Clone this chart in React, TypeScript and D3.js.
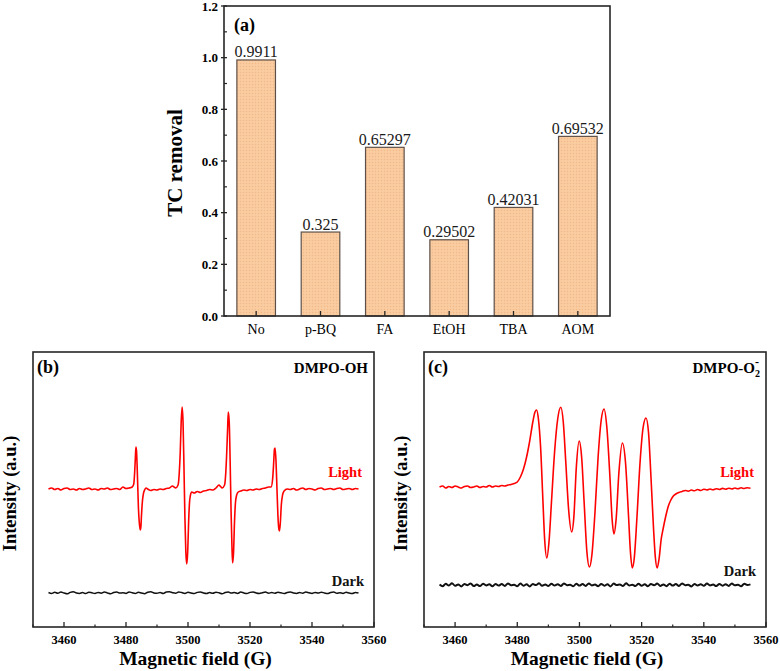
import React from 'react';
import * as d3 from 'd3';

const categories = ['No', 'p-BQ', 'FA', 'EtOH', 'TBA', 'AOM'];
const removal = [0.9911, 0.325, 0.65297, 0.29502, 0.42031, 0.69532];
const removalLabels = ['0.9911', '0.325', '0.65297', '0.29502', '0.42031', '0.69532'];
const yTicksA = [0, 0.2, 0.4, 0.6, 0.8, 1.0, 1.2];
const yMinorA = [0.1, 0.3, 0.5, 0.7, 0.9, 1.1];
const fieldTicks = [3460, 3480, 3500, 3520, 3540, 3560];
const fieldMinor = [3450, 3470, 3490, 3510, 3530, 3550];

// DMPO-OH, light (field G, intensity a.u.)
const lightOH: [number, number][] = [
  [3455, 138], [3456, 139], [3457, 137.5], [3458, 138.5], [3459, 137], [3460, 138.5], [3461, 139], [3462, 137.5],
  [3463, 138], [3464, 137], [3465, 138.5], [3466, 137.5], [3467, 138], [3468, 139], [3469, 137.5], [3470, 138],
  [3471, 137], [3472, 138.5], [3473, 138], [3474, 139], [3475, 137.5], [3476, 138], [3477, 138.5], [3478, 137.5],
  [3479, 140], [3480, 138.5], [3481, 139], [3482, 140], [3482.5, 143], [3482.8, 155], [3483.0, 168], [3483.2, 180],
  [3483.4, 176], [3483.6, 160], [3483.8, 140], [3484.0, 120], [3484.3, 104], [3484.6, 97], [3484.8, 100],
  [3485.0, 112], [3485.3, 126], [3485.6, 133], [3486.0, 137], [3486.5, 139], [3487, 138], [3488, 136.5],
  [3489, 137.5], [3490, 137], [3491, 138], [3492, 137.5], [3493, 138.5], [3494, 139], [3495, 141], [3495.5, 140],
  [3496, 139], [3496.8, 142], [3497.2, 155], [3497.5, 175], [3497.8, 205], [3498.1, 220], [3498.4, 205],
  [3498.7, 160], [3499.0, 110], [3499.3, 75], [3499.6, 63], [3499.9, 75], [3500.2, 105], [3500.5, 125],
  [3500.8, 132], [3501.2, 135], [3502, 134], [3503, 135.5], [3504, 134.5], [3505, 136], [3506, 136.5],
  [3507, 137.5], [3508, 137], [3509, 139], [3510, 142], [3510.5, 140.5], [3511, 139], [3511.8, 142],
  [3512.2, 155], [3512.5, 175], [3512.8, 200], [3513.0, 215], [3513.3, 205], [3513.6, 165], [3513.9, 115],
  [3514.2, 78], [3514.4, 64], [3514.7, 75], [3515.0, 105], [3515.3, 124], [3515.7, 132], [3516.2, 135],
  [3517, 136], [3518, 137], [3519, 136.5], [3520, 137.5], [3521, 137], [3522, 138], [3523, 137.5], [3524, 138.5],
  [3525, 139], [3526, 140], [3526.8, 140], [3527.3, 148], [3527.6, 162], [3527.9, 178], [3528.1, 179],
  [3528.4, 165], [3528.7, 138], [3529.0, 112], [3529.3, 98], [3529.5, 96], [3529.8, 105], [3530.1, 122],
  [3530.5, 132], [3531, 136], [3532, 138], [3533, 137.5], [3534, 138.5], [3535, 137], [3536, 138], [3537, 139],
  [3538, 137.5], [3539, 138.5], [3540, 138], [3541, 137], [3542, 138.5], [3543, 139], [3544, 137.5], [3545, 138],
  [3546, 138.5], [3547, 137.5], [3548, 138.5], [3549, 139], [3550, 137.5], [3551, 138], [3552, 138.5],
  [3553, 137.5], [3554, 138.5], [3555, 138],
];

const darkOH: [number, number][] = [
  [3455, 34.5], [3456, 33.5], [3457, 34.8], [3458, 33.8], [3459, 35], [3460, 34], [3461, 33.2], [3462, 34.6],
  [3463, 35.2], [3464, 34], [3465, 33.6], [3466, 34.4], [3467, 33.4], [3468, 34.8], [3469, 34.2], [3470, 33.5],
  [3471, 34.6], [3472, 33.8], [3473, 34.9], [3474, 34.1], [3475, 33.3], [3476, 34.5], [3477, 35], [3478, 33.9],
  [3479, 34.3], [3480, 33.6], [3481, 35.1], [3482, 34.2], [3483, 33.5], [3484, 34.7], [3485, 34], [3486, 33.3],
  [3487, 34.8], [3488, 35.3], [3489, 34.1], [3490, 33.7], [3491, 34.5], [3492, 33.6], [3493, 34.9], [3494, 35.2],
  [3495, 34.3], [3496, 33.8], [3497, 35], [3498, 34.4], [3499, 33.6], [3500, 34.7], [3501, 34.1], [3502, 33.4],
  [3503, 34.6], [3504, 35.1], [3505, 34], [3506, 33.5], [3507, 34.4], [3508, 33.7], [3509, 34.8], [3510, 34.2],
  [3511, 33.3], [3512, 34.5], [3513, 35], [3514, 33.9], [3515, 34.4], [3516, 33.6], [3517, 34.9], [3518, 34.1],
  [3519, 33.4], [3520, 34.6], [3521, 35.1], [3522, 34], [3523, 33.5], [3524, 34.3], [3525, 34.9], [3526, 33.7],
  [3527, 34.5], [3528, 33.8], [3529, 34.7], [3530, 34.2], [3531, 33.4], [3532, 34.6], [3533, 35], [3534, 34.1],
  [3535, 33.6], [3536, 34.4], [3537, 33.8], [3538, 34.9], [3539, 34.2], [3540, 33.5], [3541, 34.6], [3542, 33.9],
  [3543, 34.8], [3544, 34.1], [3545, 33.4], [3546, 34.5], [3547, 35], [3548, 33.8], [3549, 34.3], [3550, 33.6],
  [3551, 34.7], [3552, 34], [3553, 33.5], [3554, 34.4], [3555, 33.9],
];

// DMPO-O2-, light
const lightO2: [number, number][] = [
  [3455, 140], [3456, 141], [3457, 139], [3458, 140.5], [3459, 139.5], [3460, 141], [3461, 140], [3462, 139],
  [3463, 140.5], [3464, 141], [3465, 139.5], [3466, 140], [3467, 141], [3468, 139.5], [3469, 140.5], [3470, 140],
  [3471, 141.5], [3472, 140], [3473, 141], [3474, 140.5], [3475, 141.5], [3476, 141], [3477, 142], [3478, 142.5],
  [3479, 143.5], [3480, 145], [3481, 150], [3482, 158], [3483, 170], [3484, 186], [3485, 205], [3485.6, 214],
  [3486.2, 217], [3486.8, 208], [3487.5, 180], [3488.2, 130], [3488.8, 88], [3489.5, 69], [3490.2, 85],
  [3491, 125], [3492, 175], [3493, 208], [3494, 219.7], [3494.8, 205], [3495.6, 165], [3496.5, 118],
  [3497.5, 95], [3498.2, 110], [3499, 160], [3499.9, 186], [3500.7, 170], [3501.5, 125], [3502.4, 75],
  [3503.2, 60], [3504, 72], [3505, 115], [3506, 170], [3507, 207], [3507.9, 218], [3508.8, 200], [3509.8, 150],
  [3510.5, 108], [3511.1, 93], [3511.8, 108], [3512.7, 155], [3513.8, 184], [3514.8, 165], [3515.8, 110],
  [3516.4, 75], [3517, 59], [3517.6, 68], [3518.5, 110], [3519.5, 165], [3520.5, 200], [3521.4, 209],
  [3522.2, 195], [3523, 150], [3523.8, 100], [3524.4, 70], [3525, 59], [3525.6, 68], [3526.3, 88], [3526.9, 98],
  [3527.7, 110], [3528.6, 121], [3529.4, 127], [3530.2, 131], [3531, 133], [3532, 134.5], [3533, 135.5],
  [3534, 136.5], [3535, 135.8], [3536, 137], [3537, 136.2], [3538, 137.5], [3539, 136.5], [3540, 137.8],
  [3541, 137], [3542, 138], [3543, 137.2], [3544, 138.3], [3545, 137.5], [3546, 138.6], [3547, 137.8],
  [3548, 138.8], [3549, 138], [3550, 139], [3551, 138.2], [3552, 139.2], [3553, 138.5], [3554, 139.3], [3555, 138.8],
];

const darkO2: [number, number][] = [
  [3455, 42.5], [3456, 40.8], [3457, 43.2], [3458, 41.5], [3459, 43.8], [3460, 41.2], [3461, 42.6], [3462, 40.6],
  [3463, 43], [3464, 41.8], [3465, 43.5], [3466, 41], [3467, 42.4], [3468, 40.9], [3469, 43.3], [3470, 41.6],
  [3471, 42.8], [3472, 40.7], [3473, 43.1], [3474, 41.4], [3475, 42.9], [3476, 41.1], [3477, 43.6], [3478, 41.7],
  [3479, 42.3], [3480, 40.8], [3481, 43.4], [3482, 41.3], [3483, 42.7], [3484, 40.6], [3485, 43], [3486, 41.9],
  [3487, 43.7], [3488, 41.2], [3489, 42.5], [3490, 40.9], [3491, 43.2], [3492, 41.5], [3493, 42.8], [3494, 41],
  [3495, 43.5], [3496, 41.8], [3497, 42.2], [3498, 40.7], [3499, 43.3], [3500, 41.4], [3501, 42.9], [3502, 41.1],
  [3503, 43.6], [3504, 41.6], [3505, 42.4], [3506, 40.8], [3507, 43.1], [3508, 41.3], [3509, 42.7], [3510, 40.6],
  [3511, 43.4], [3512, 41.9], [3513, 42.6], [3514, 41], [3515, 43.8], [3516, 41.5], [3517, 42.3], [3518, 40.9],
  [3519, 43.2], [3520, 41.2], [3521, 42.8], [3522, 40.7], [3523, 43], [3524, 41.7], [3525, 43.5], [3526, 41.1],
  [3527, 42.5], [3528, 40.8], [3529, 43.3], [3530, 41.4], [3531, 42.9], [3532, 41], [3533, 43.6], [3534, 41.8],
  [3535, 42.2], [3536, 40.6], [3537, 43.1], [3538, 41.5], [3539, 42.7], [3540, 41.2], [3541, 43.4], [3542, 41.6],
  [3543, 42.4], [3544, 40.9], [3545, 43], [3546, 41.3], [3547, 42.8], [3548, 41.1], [3549, 43.5], [3550, 41.7],
  [3551, 42.3], [3552, 40.8], [3553, 43.2], [3554, 41.9], [3555, 42.6],
];

const FONT = 'Liberation Serif, Tinos, Times New Roman, Times, serif';
const FRAME = '#262626';

function EprPanel(props: {
  left: number; right: number; top: number; bottom: number;
  light: [number, number][]; dark: [number, number][];
  tag: string; title: React.ReactNode; darkLabelY: number; darkWidth: number;
}) {
  const { left, right, top, bottom, light, dark, tag, title, darkLabelY, darkWidth } = props;
  const x = d3.scaleLinear().domain([3450, 3560]).range([left, right]);
  const y = d3.scaleLinear().domain([0, bottom - top]).range([bottom, top]);
  const line = d3.line<[number, number]>().x(d => x(d[0])).y(d => y(d[1])).curve(d3.curveMonotoneX);
  const cx = (left + right) / 2;
  return (
    <g>
      <path d={line(dark) || ''} fill="none" stroke="#111" strokeWidth={darkWidth} />
      <path d={line(light) || ''} fill="none" stroke="#ff0000" strokeWidth={1.6} />
      <rect x={left} y={top} width={right - left} height={bottom - top} fill="none" stroke={FRAME} strokeWidth={1.6} />
      {fieldTicks.map(t => (
        <g key={t}>
          <line x1={x(t)} x2={x(t)} y1={bottom} y2={bottom - 5} stroke={FRAME} strokeWidth={1.3} />
          <text x={x(t)} y={bottom + 17} textAnchor="middle" fontFamily={FONT} fontWeight="bold" fontSize={12.5}>{t}</text>
        </g>
      ))}
      {fieldMinor.map(t => (
        <line key={t} x1={x(t)} x2={x(t)} y1={bottom} y2={bottom - 2.5} stroke={FRAME} strokeWidth={1.2} />
      ))}
      <text x={cx - 8} y={bottom + 38} textAnchor="middle" fontFamily={FONT} fontWeight="bold" fontSize={19.5}>Magnetic field (G)</text>
      <text transform={`translate(${left - 17},${(top + bottom) / 2 + 4}) rotate(-90)`} textAnchor="middle" fontFamily={FONT} fontWeight="bold" fontSize={18.5}>Intensity (a.u.)</text>
      <text x={left + 4} y={top + 21} fontFamily={FONT} fontWeight="bold" fontSize={18}>{tag}</text>
      <text x={right - 6} y={top + 21} textAnchor="end" fontFamily={FONT} fontWeight="bold" fontSize={15}>{title}</text>
      <text x={right - 12} y={477} textAnchor="end" fontFamily={FONT} fontWeight="bold" fontSize={14.5} fill="#ff0000">Light</text>
      <text x={right - 10} y={darkLabelY} textAnchor="end" fontFamily={FONT} fontWeight="bold" fontSize={14.5} fill="#111">Dark</text>
    </g>
  );
}

export default function App() {
  const aL = 224, aR = 610, aT = 6, aB = 316;
  const xa = d3.scaleBand<string>().domain(categories).range([aL, aR]).paddingInner(0.4).paddingOuter(0.2);
  const ya = d3.scaleLinear().domain([0, 1.2]).range([aB, aT]);

  return (
    <svg width={780} height={671} style={{ position: 'absolute', left: 0, top: 0, background: '#fff' }}>
      <defs>
        <pattern id="dots" width={3} height={3} patternUnits="userSpaceOnUse">
          <rect width={3} height={3} fill="#f9c99c" />
          <rect x={0} y={0} width={1} height={1} fill="#eab282" opacity={0.6} />
          <rect x={1.5} y={1.5} width={1} height={1} fill="#fbd6b2" opacity={0.8} />
        </pattern>
      </defs>
      <rect width={780} height={671} fill="#fff" />

      {/* Panel (a) */}
      {categories.map((c, i) => (
        <g key={c}>
          <rect x={xa(c)} y={ya(removal[i])} width={xa.bandwidth()} height={aB - ya(removal[i])}
            fill="url(#dots)" stroke="#5e5048" strokeWidth={1.2} />
          <text x={(xa(c) as number) + xa.bandwidth() / 2} y={ya(removal[i]) - 2.5} textAnchor="middle"
            fontFamily={FONT} fontSize={16} fill="#1a1a1a">{removalLabels[i]}</text>
        </g>
      ))}
      <rect x={aL} y={aT} width={aR - aL} height={aB - aT} fill="none" stroke={FRAME} strokeWidth={1.6} />
      {categories.map(c => {
        const cx = (xa(c) as number) + xa.bandwidth() / 2;
        return (
          <g key={c}>
            <line x1={cx} x2={cx} y1={aB} y2={aB - 5} stroke={FRAME} strokeWidth={1.3} />
            <text x={cx} y={aB + 18} textAnchor="middle" fontFamily={FONT} fontSize={14}>{c}</text>
          </g>
        );
      })}
      {yTicksA.map(t => (
        <g key={t}>
          <line x1={aL - 3} x2={aL + 3} y1={ya(t)} y2={ya(t)} stroke={FRAME} strokeWidth={1.3} />
          <text x={aL - 6} y={ya(t) + 4.5} textAnchor="end" fontFamily={FONT} fontWeight="bold" fontSize={13}>{t.toFixed(1)}</text>
        </g>
      ))}
      {yMinorA.map(t => (
        <line key={t} x1={aL} x2={aL + 3} y1={ya(t)} y2={ya(t)} stroke={FRAME} strokeWidth={1.2} />
      ))}
      <text transform={`translate(${aL - 42},${(aT + aB) / 2 + 2}) rotate(-90)`} textAnchor="middle"
        fontFamily={FONT} fontWeight="bold" fontSize={21}>TC removal</text>
      <text x={aL + 10} y={aT + 25} fontFamily={FONT} fontWeight="bold" fontSize={18}>(a)</text>

      <EprPanel left={33} right={374} top={352} bottom={627} light={lightOH} dark={darkOH}
        tag="(b)" title="DMPO-OH" darkLabelY={586} darkWidth={1.5} />
      <EprPanel left={424} right={766} top={352} bottom={627} light={lightO2} dark={darkO2}
        tag="(c)" darkLabelY={576} darkWidth={2}
        title={<>DMPO-O<tspan fontSize={10} dy={4}>2</tspan><tspan fontSize={12} dx={-5} dy={-11}>-</tspan></>} />
    </svg>
  );
}
